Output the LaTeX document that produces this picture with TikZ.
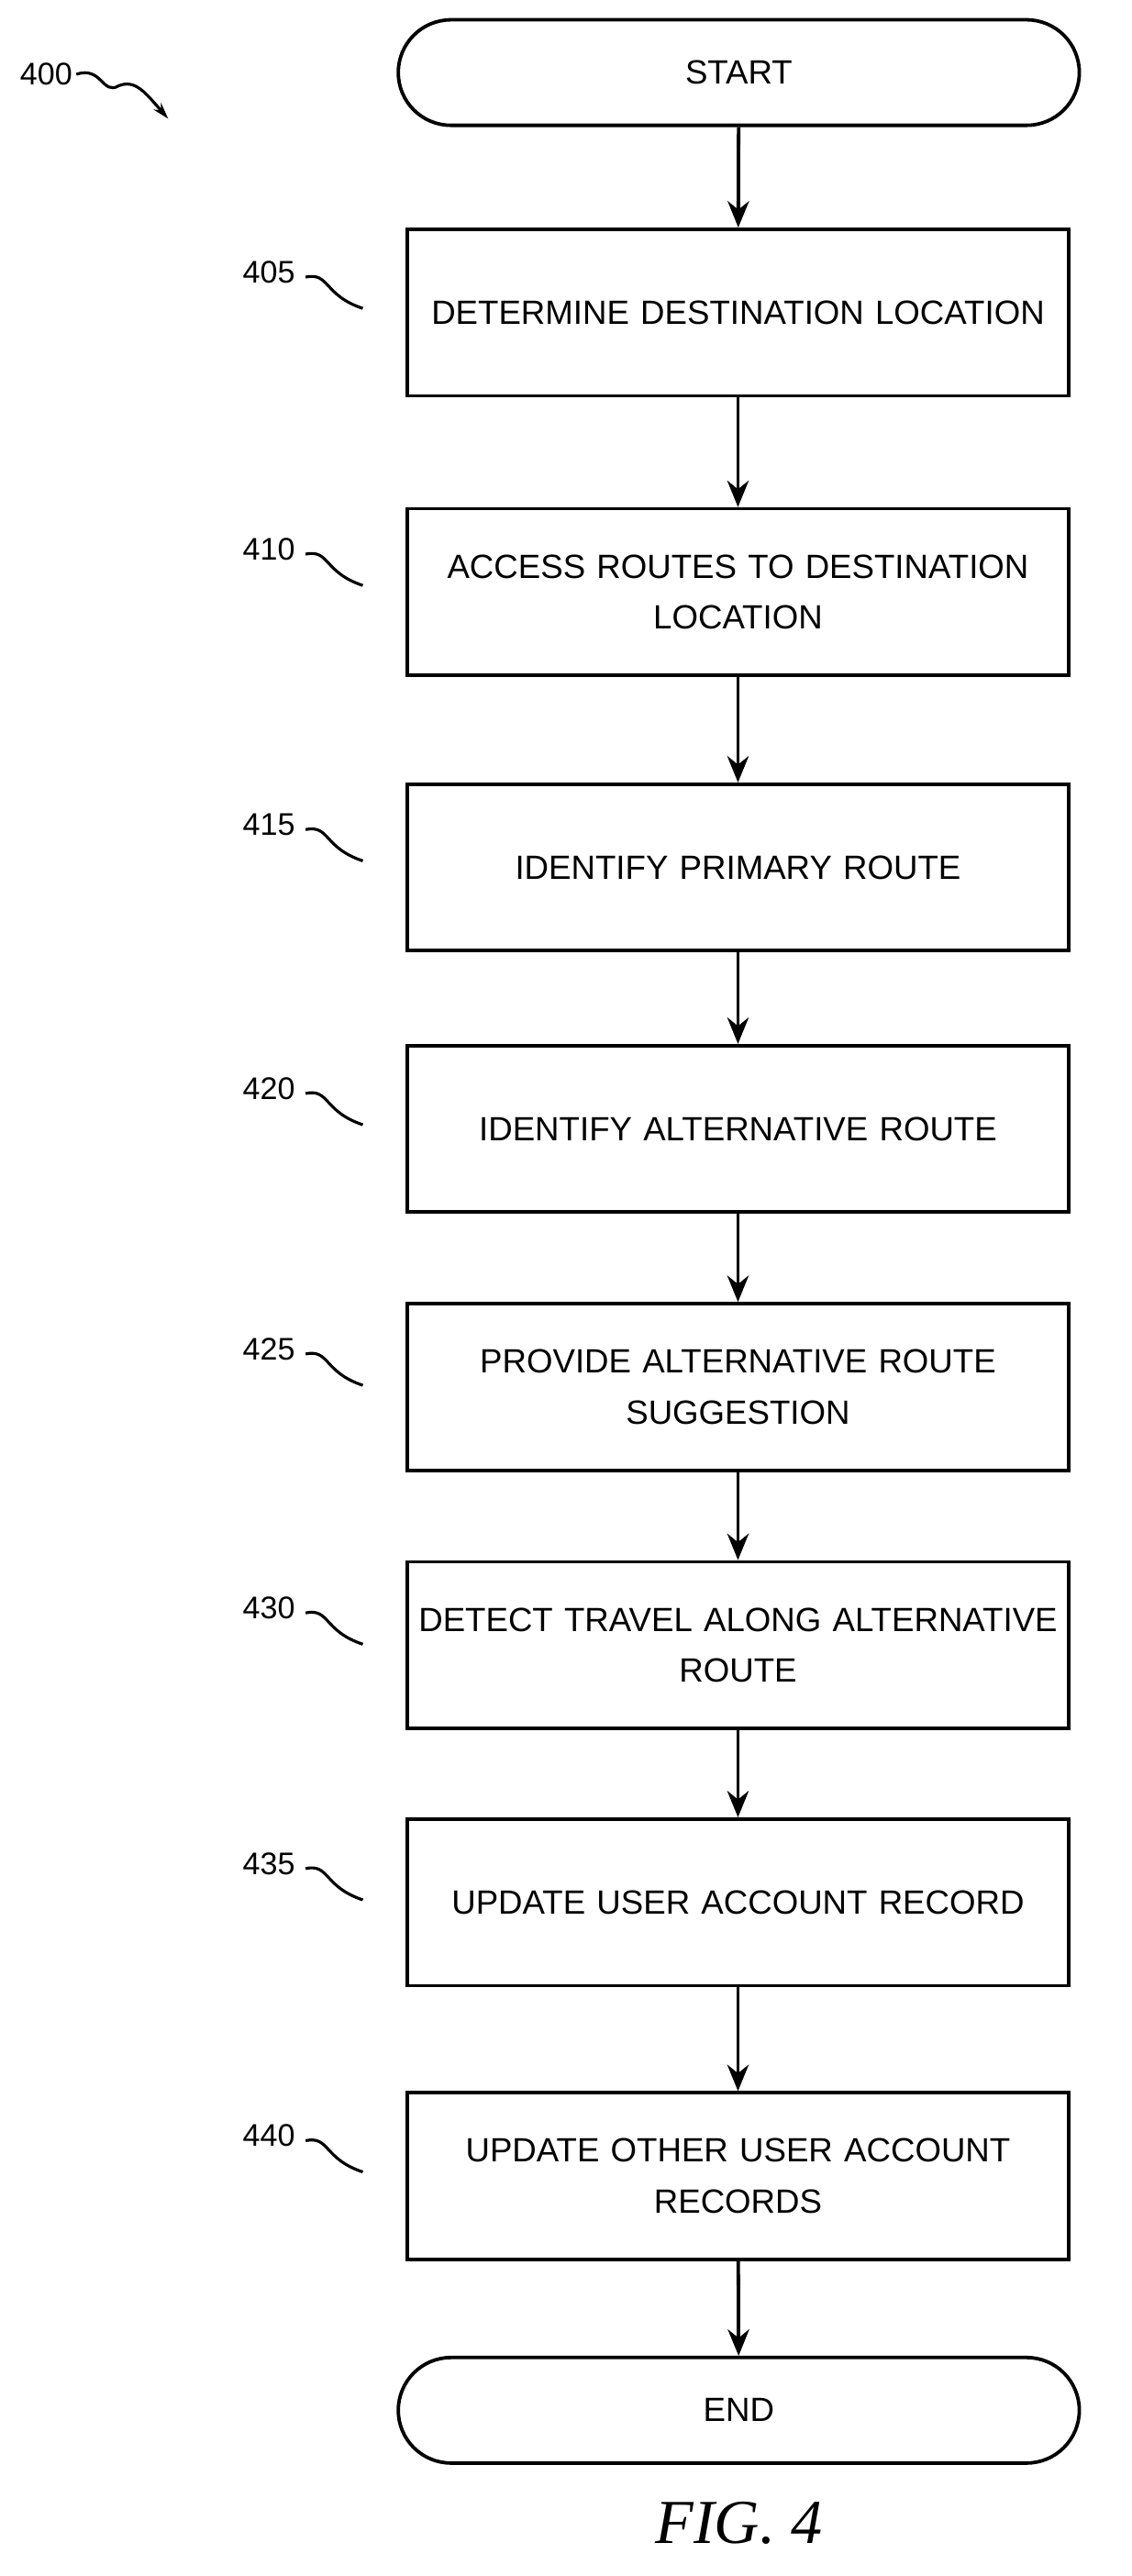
\documentclass[tikz,border=0pt]{standalone}
\usepackage{fontspec}
\setmainfont{Liberation Sans}
\usetikzlibrary{arrows.meta}
\begin{document}
\begin{tikzpicture}[x=0.05cm,y=-0.05cm,
  box/.style={draw,line width=3pt,minimum width=20.05cm,minimum height=5.05cm,inner xsep=0pt,text width=19.9cm,align=center,font=\fontsize{29}{44}\selectfont},
  term/.style={draw,line width=3pt,minimum width=20.65cm,minimum height=3.2cm,rounded corners=1.6cm,font=\fontsize{29}{44}\selectfont},
  lab/.style={font=\fontsize{27}{30}\selectfont},
  arr/.style={line width=3pt,-{Stealth[length=0.8cm,width=0.65cm]}},
  lead/.style={line width=2.5pt}]
\useasboundingbox (0,0) rectangle (686,1562);
\node[term] (s) at (448,44) {START};
\node[box] (b405) at (447.5,189.5) {DETERMINE DESTINATION LOCATION};
\node[box] (b410) at (447.5,359) {ACCESS ROUTES TO DESTINATION\\LOCATION};
\node[box] (b415) at (447.5,526) {IDENTIFY PRIMARY ROUTE};
\node[box] (b420) at (447.5,684.5) {IDENTIFY ALTERNATIVE ROUTE};
\node[box] (b425) at (447.5,841) {PROVIDE ALTERNATIVE ROUTE\\SUGGESTION};
\node[box] (b430) at (447.5,997.5) {DETECT TRAVEL ALONG ALTERNATIVE\\ROUTE};
\node[box] (b435) at (447.5,1153.5) {UPDATE USER ACCOUNT RECORD};
\node[box] (b440) at (447.5,1319.5) {UPDATE OTHER USER ACCOUNT\\RECORDS};
\node[term] (e) at (448,1461.5) {END};
\node[font=\fontsize{54}{60}\selectfont] (fig) at (448,1530) {\setmainfont{Liberation Serif}\itshape FIG. 4};
\draw[arr] (s) -- (b405);
\draw[arr] (b405) -- (b410);
\draw[arr] (b410) -- (b415);
\draw[arr] (b415) -- (b420);
\draw[arr] (b420) -- (b425);
\draw[arr] (b425) -- (b430);
\draw[arr] (b430) -- (b435);
\draw[arr] (b435) -- (b440);
\draw[arr] (b440) -- (e);
\foreach \n/\y in {405/165,410/333,415/500,420/660,425/818,430/975,435/1130,440/1295}{
  \node[lab] (l\n) at (163,\y) {\n};
  \coordinate (c\n) at (220,\y+22);
  \draw[lead] (l\n.east) ++(4,3) .. controls (200,\y) and (196,\y+14) .. (c\n);
}
\node[lab] (l400) at (28,45) {400};
\coordinate (c400) at (102,72);
\draw[lead,-{Stealth[length=0.5cm,width=0.3cm]}] (l400.east) .. controls (62,40) and (62,58) .. (72,52) .. controls (82,48) and (88,56) .. (c400);
\end{tikzpicture}
\end{document}
